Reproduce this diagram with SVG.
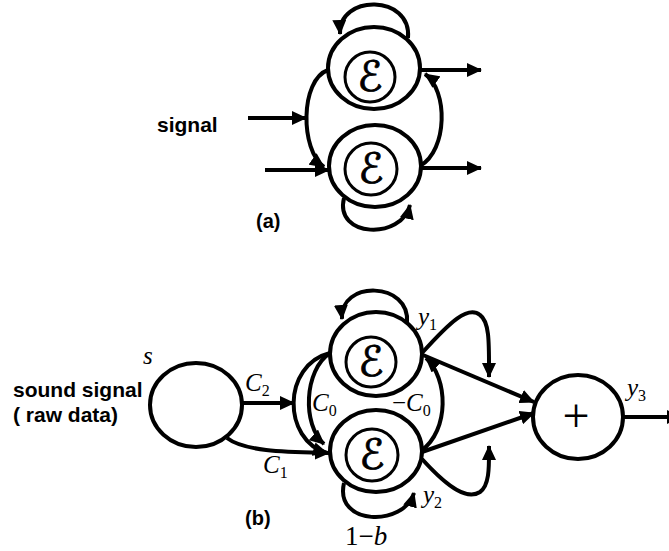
<svg xmlns="http://www.w3.org/2000/svg" width="669" height="551" viewBox="0 0 669 551">
<style>
.node{fill:#fff;stroke:#000;stroke-width:4}
.inner{fill:none;stroke:#000;stroke-width:3}
.eps{font-family:"DejaVu Serif","DejaVu Sans",serif;font-size:42px;text-anchor:middle;fill:#000;stroke:#000;stroke-width:0.8}
.edge{fill:none;stroke:#000;stroke-width:4}
.lbl{font-family:"Liberation Sans",Arial,sans-serif;font-weight:bold;font-size:21px;fill:#000}
.math{font-family:"Liberation Serif","Times New Roman",serif;font-size:25px;fill:#000}
.it{font-style:italic}
.sub{font-size:16px;font-style:normal}
</style>
<defs>
<marker id="ah" markerUnits="userSpaceOnUse" markerWidth="15" markerHeight="14" refX="14" refY="7" orient="auto">
<path d="M0,0 L15,7 L0,14 z" fill="#000"/>
</marker>
</defs>
<rect width="669" height="551" fill="#fff"/>

<g id="connectors">
<!-- (a) -->
<path class="edge" d="M408 38 C412 -6,338 -6,340 34" marker-end="url(#ah)"/>
<path class="edge" d="M344 198 C334 238,402 240,410 205" marker-end="url(#ah)"/>
<path class="edge" d="M328 70 C300 80,300 150,324 167" marker-end="url(#ah)"/>
<path class="edge" d="M420 166 C448 150,448 90,425 74" marker-end="url(#ah)"/>
<path class="edge" d="M248 118 L306 118" marker-end="url(#ah)"/>
<path class="edge" d="M265 170 L329 170" marker-end="url(#ah)"/>
<path class="edge" d="M421 70 L481 70" marker-end="url(#ah)"/>
<path class="edge" d="M421 168 L481 168" marker-end="url(#ah)"/>
<!-- (b) -->
<path class="edge" d="M407 323 C411 281,339 280,342 319" marker-end="url(#ah)"/>
<path class="edge" d="M344 483 C334 526,404 527,414 493" marker-end="url(#ah)"/>
<path class="edge" d="M330 353 C282 365,282 440,327 453" marker-end="url(#ah)"/>
<path class="edge" d="M330 353 C304 370,302 425,324 444" marker-end="url(#ah)"/>
<path class="edge" d="M242 403 L294 403" marker-end="url(#ah)"/>
<path class="edge" d="M227 438 C245 452,290 452,329 453" marker-end="url(#ah)"/>
<path class="edge" d="M421 451 C450 430,448 378,426 358" marker-end="url(#ah)"/>
<path class="edge" d="M423 355 L534 402" marker-end="url(#ah)"/>
<path class="edge" d="M422 452 L534 413" marker-end="url(#ah)"/>
<path class="edge" d="M422 353 C450 322,468 305,480 315 C490 322,489 345,489 377" marker-end="url(#ah)"/>
<path class="edge" d="M422 459 C450 490,468 500,480 492 C490 485,489 465,489 446" marker-end="url(#ah)"/>
<path class="edge" d="M623 417 L681 417" marker-end="url(#ah)"/>
</g>

<g id="a-top">
<ellipse class="node" cx="374" cy="68" rx="46" ry="41"/>
<circle class="inner" cx="370" cy="77" r="25"/>
<text class="eps" x="370" y="91">ℰ</text>
</g>
<g id="a-bottom">
<ellipse class="node" cx="375" cy="166" rx="46" ry="41"/>
<circle class="inner" cx="371" cy="169" r="26"/>
<text class="eps" x="371" y="183">ℰ</text>
</g>
<g id="b-s">
<ellipse class="node" cx="196" cy="405" rx="46" ry="42"/>
</g>
<g id="b-top">
<ellipse class="node" cx="376" cy="354" rx="46" ry="42"/>
<circle class="inner" cx="371" cy="362" r="25"/>
<text class="eps" x="371" y="376">ℰ</text>
</g>
<g id="b-bottom">
<ellipse class="node" cx="376" cy="451" rx="46" ry="41"/>
<circle class="inner" cx="372" cy="455" r="26"/>
<text class="eps" x="372" y="469">ℰ</text>
</g>
<g id="b-plus">
<ellipse class="node" cx="578" cy="417" rx="45" ry="42"/>
<text class="math" x="576" y="432" text-anchor="middle" style="font-size:48px">+</text>
</g>

<g id="labels">
<text class="lbl" x="157" y="132">signal</text>
<text class="lbl" x="256" y="228" style="font-size:20px">(a)</text>
<text class="lbl" x="13" y="397">sound signal</text>
<text class="lbl" x="13" y="422">( raw data)</text>
<text class="lbl" x="245" y="525" style="font-size:20px">(b)</text>
<text class="math it" x="143" y="364">s</text>
<text class="math" x="245" y="391"><tspan class="it">C</tspan><tspan class="sub" dy="5">2</tspan></text>
<text class="math" x="263" y="473"><tspan class="it">C</tspan><tspan class="sub" dy="5">1</tspan></text>
<text class="math" x="312" y="411"><tspan class="it">C</tspan><tspan class="sub" dy="5">0</tspan></text>
<text class="math" x="392" y="411">−<tspan class="it">C</tspan><tspan class="sub" dy="5">0</tspan></text>
<text class="math" x="418" y="325"><tspan class="it">y</tspan><tspan class="sub" dy="5">1</tspan></text>
<text class="math" x="423" y="503"><tspan class="it">y</tspan><tspan class="sub" dy="5">2</tspan></text>
<text class="math" x="627" y="396"><tspan class="it">y</tspan><tspan class="sub" dy="5">3</tspan></text>
<text class="math" x="345" y="545" style="font-size:27px">1−<tspan class="it">b</tspan></text>
</g>
</svg>
